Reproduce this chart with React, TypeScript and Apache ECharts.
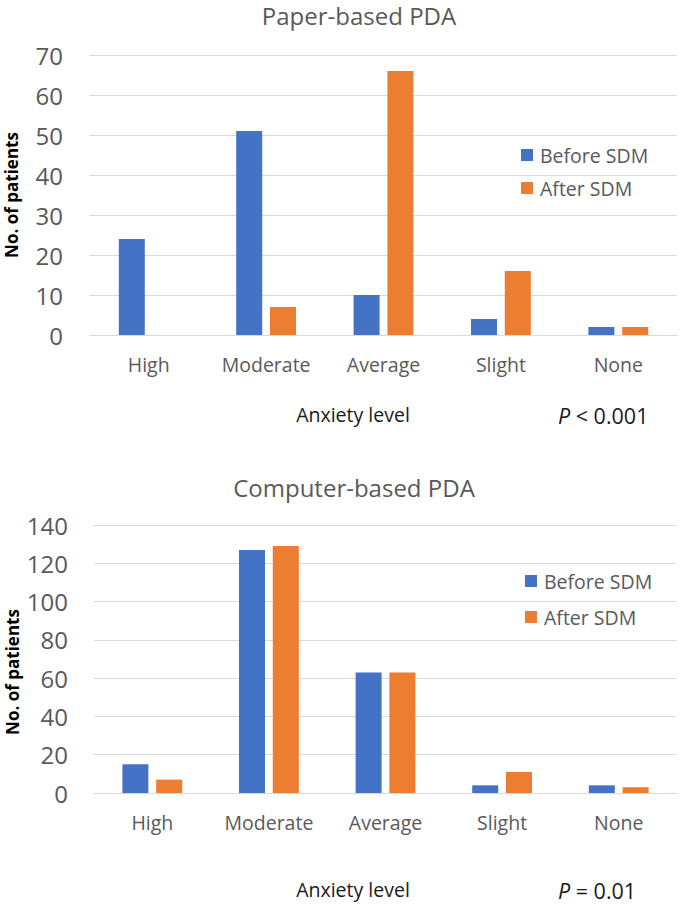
import React, { useEffect, useRef } from "react";
import * as echarts from "echarts";

const categories = ["High", "Moderate", "Average", "Slight", "None"];
const seriesNames = ["Before SDM", "After SDM"];
const paperBefore = [24, 51, 10, 4, 2];
const paperAfter = [0, 7, 66, 16, 2];
const computerBefore = [15, 127, 63, 4, 4];
const computerAfter = [7, 129, 63, 11, 3];
const paperTicks = [0, 10, 20, 30, 40, 50, 60, 70];
const computerTicks = [0, 20, 40, 60, 80, 100, 120, 140];
const titles = ["Paper-based PDA", "Computer-based PDA"];
const pValues = ["< 0.001", "= 0.01"];
const xName = "Anxiety level";
const yName = "No. of patients";

const FONT = "'Open Sans', 'Noto Sans', sans-serif";
const BLUE = "#4472C4";
const ORANGE = "#ED7D31";
const GRID = "#d9d9d9";
const GREY = "#595959";

export default function App() {
  const ref = useRef<HTMLDivElement>(null);
  useEffect(() => {
    if (!ref.current) return;
    const chart = echarts.init(ref.current, null, { renderer: "svg" });
    const xAxisBase = (gridIndex: number) => ({
      type: "category",
      gridIndex,
      data: categories,
      axisLine: { show: true, lineStyle: { color: GRID, width: 1 } },
      axisTick: { show: false },
      axisLabel: { color: GREY, fontSize: 19.5, fontFamily: FONT, margin: 19 },
    });
    const yAxisBase = (gridIndex: number, ticks: number[], margin: number) => ({
      type: "value",
      gridIndex,
      min: ticks[0],
      max: ticks[ticks.length - 1],
      interval: ticks[1] - ticks[0],
      axisLine: { show: false },
      axisTick: { show: false },
      axisLabel: { color: GREY, fontSize: 24, fontFamily: FONT, margin },
      splitLine: { lineStyle: { color: GRID, width: 1 } },
    });
    const bar = (name: string, data: number[], color: string, idx: number) => ({
      type: "bar",
      name,
      data,
      xAxisIndex: idx,
      yAxisIndex: idx,
      barWidth: 26,
      barGap: "30%",
      itemStyle: { color },
    });
    const legendBase = (left: number, top: number, itemGap: number) => ({
      data: seriesNames,
      orient: "vertical",
      left,
      top,
      itemGap,
      itemWidth: 12,
      itemHeight: 12,
      icon: "rect",
      selectedMode: false,
      textStyle: { color: GREY, fontSize: 19.5, fontFamily: FONT, lineHeight: 20, padding: [0, 0, 0, 2] },
    });
    const text = (x: number, y: number, t: string, opts: any = {}) => ({
      type: "text",
      x,
      y,
      rotation: opts.rotation || 0,
      style: {
        text: t,
        fontFamily: FONT,
        fontSize: opts.fontSize || 19.5,
        fontWeight: opts.fontWeight || "normal",
        fill: opts.fill || "#262626",
        textAlign: opts.align || "center",
        textVerticalAlign: "middle",
        rich: opts.rich,
      },
    });
    const pRich = {
      i: { fontStyle: "italic", fontSize: 21.5, fontFamily: FONT, fill: "#1a1a1a" },
      n: { fontSize: 21.5, fontFamily: FONT, fill: "#1a1a1a" },
    };
    chart.setOption({
      animation: false,
      grid: [
        { left: 90, right: 8, top: 55, height: 280 },
        { left: 94, right: 8, top: 525, height: 268 },
      ],
      xAxis: [xAxisBase(0), xAxisBase(1)],
      yAxis: [yAxisBase(0, paperTicks, 27), yAxisBase(1, computerTicks, 26)],
      legend: [legendBase(516, 140, 13), legendBase(520, 566, 16)],
      series: [
        bar(seriesNames[0], paperBefore, BLUE, 0),
        bar(seriesNames[1], paperAfter, ORANGE, 0),
        bar(seriesNames[0], computerBefore, BLUE, 1),
        bar(seriesNames[1], computerAfter, ORANGE, 1),
      ],
      graphic: [
        text(359, 15, titles[0], { fontSize: 24, fill: GREY }),
        text(354, 487, titles[1], { fontSize: 24, fill: GREY }),
        text(11, 195, yName, { fontSize: 17, fontWeight: "bold", fill: "#000", rotation: Math.PI / 2 }),
        text(12, 672, yName, { fontSize: 17, fontWeight: "bold", fill: "#000", rotation: Math.PI / 2 }),
        text(353, 414, xName, { fill: "#1a1a1a" }),
        text(353, 889, xName, { fill: "#1a1a1a" }),
        text(558, 415, "{i|P}{n| " + pValues[0] + "}", { align: "left", rich: pRich }),
        text(558, 890, "{i|P}{n| " + pValues[1] + "}", { align: "left", rich: pRich }),
      ],
    });
    return () => chart.dispose();
  }, []);
  return (
    <div
      ref={ref}
      style={{ position: "absolute", left: 0, top: 0, width: 685, height: 905, background: "#fff" }}
    />
  );
}
